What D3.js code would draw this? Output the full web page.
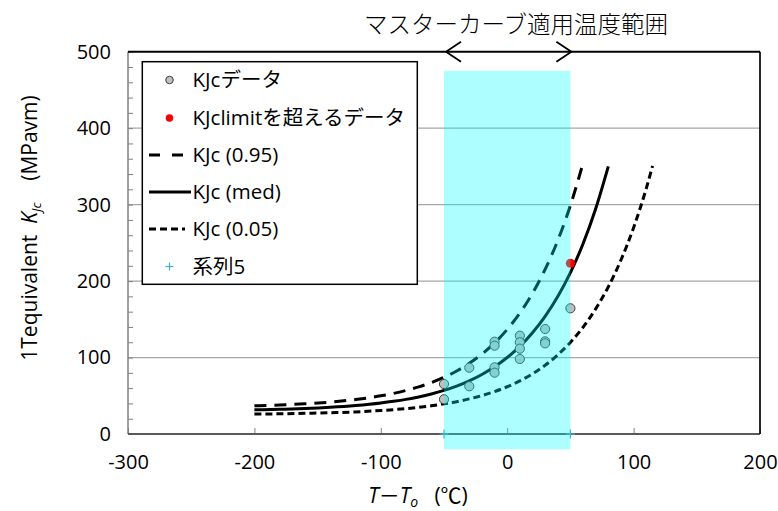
<!DOCTYPE html>
<html><head><meta charset="utf-8">
<script src="https://cdn.jsdelivr.net/npm/d3@7"></script>
<style>
html,body{margin:0;padding:0;background:#fff;}
text{font-family:"Open Sans","Noto Sans CJK JP",sans-serif;}
</style></head>
<body><svg id="c" width="778" height="511"></svg>
<script>
// ---- data ----
const xTicks = [-300, -200, -100, 0, 100, 200];
const yTicks = [0, 100, 200, 300, 400, 500];
const yMinorTicks = [0,20,40,60,80,100,120,140,160,180,200,220,240,260,280,300,320,340,360,380,400,420,440,460,480,500];

const dataT = [-50, -50, -30, -30, -10, -10, -10, -10, 10, 10, 10, 10, 30, 30, 30, 50];
const dataK = [65.4, 45.4, 86.7, 62.4, 120.7, 115.5, 87.2, 80.2, 128.6, 119.9, 111.6, 98.1, 137.3, 121.2, 118.6, 164.4];

const limitT = [50];
const limitK = [223.3];

const p95T = [-200,-180,-160,-140,-120,-100,-90,-80,-70,-60,-50,-40,-30,-20,-10,0,10,20,30,40,50,60];
const p95K = [36.9,37.9,39.5,41.7,45.1,49.9,53.1,57.0,61.6,67.3,74.1,82.4,92.4,104.5,119.1,136.8,158.2,184.0,215.3,253.1,298.9,354.2];

const medT = [-200,-180,-160,-140,-120,-100,-90,-80,-70,-60,-50,-40,-30,-20,-10,0,10,20,30,40,50,60,70,80];
const medK = [31.6,32.3,33.3,34.9,37.2,40.5,42.7,45.3,48.5,52.4,57.1,62.7,69.6,77.9,87.9,100,114.6,132.4,153.8,179.7,211.0,248.9,294.7,350.1];

const p05T = [-200,-180,-160,-140,-120,-100,-80,-60,-50,-40,-30,-20,-10,0,10,20,30,40,50,60,70,80,90,100,110,115];
const p05K = [26.0,26.4,27.0,27.8,28.9,30.7,33.2,36.9,39.4,42.3,45.9,50.2,55.5,61.8,69.5,78.7,89.9,103.5,119.8,139.6,163.6,192.5,227.6,269.9,321.1,350.6];

const s5T = [-50, 50];
const s5K = [0, 0];

const bandT = [-50, 50];
const bandK = [-20, 475];

const legendLabels = ["KJcデータ", "KJclimitを超えるデータ", "KJc (0.95)", "KJc (med)", "KJc (0.05)", "系列5"];
const titleText = "マスターカーブ適用温度範囲";

// ---- layout ----
const svg = d3.select("#c");
const X0 = 128, X1 = 760, Y0 = 434, Y1 = 51.7;
const x = d3.scaleLinear().domain([-300, 200]).range([X0, X1]);
const y = d3.scaleLinear().domain([0, 500]).range([Y0, Y1]);

// gridlines
svg.append("g").selectAll("line").data(yTicks.filter(v => v > 0 && v < 500)).join("line")
  .attr("x1", X0).attr("x2", X1).attr("y1", d => y(d)).attr("y2", d => y(d))
  .attr("stroke", "#a6a6a6").attr("stroke-width", 1.2);

// y minor ticks (inward)
const yMinor = svg.append("g").attr("transform", `translate(${X0},0)`)
  .call(d3.axisLeft(y).tickValues(yMinorTicks).tickSize(-5).tickFormat(""));
yMinor.select(".domain").remove();
yMinor.selectAll("line").attr("stroke", "#808080");

// y labels
const yLab = svg.append("g").attr("transform", `translate(${X0},0)`)
  .call(d3.axisLeft(y).tickValues(yTicks).tickSize(0).tickPadding(17).tickFormat(d => String(d)));
yLab.select(".domain").remove();
yLab.selectAll("text").attr("font-size", 20).attr("fill", "#000")
  .attr("font-family", "'Open Sans',sans-serif");

// x ticks (inward) and labels
const xAx = svg.append("g").attr("transform", `translate(0,${Y0})`)
  .call(d3.axisBottom(x).tickValues(xTicks).tickSize(-6).tickPadding(21).tickFormat(d => String(d)));
xAx.select(".domain").remove();
xAx.selectAll("line").attr("stroke", "#808080");
xAx.selectAll("text").attr("font-size", 20).attr("fill", "#000")
  .attr("font-family", "'Open Sans',sans-serif");

// frame
svg.append("line").attr("x1", X0).attr("x2", X0).attr("y1", Y1).attr("y2", Y0).attr("stroke", "#808080").attr("stroke-width", 1.5);
svg.append("line").attr("x1", X0).attr("x2", X1).attr("y1", Y0).attr("y2", Y0).attr("stroke", "#595959").attr("stroke-width", 1.8);
svg.append("line").attr("x1", X1).attr("x2", X1).attr("y1", Y1).attr("y2", Y0).attr("stroke", "#111").attr("stroke-width", 1.8);
svg.append("line").attr("x1", X0).attr("x2", X1).attr("y1", Y1).attr("y2", Y1).attr("stroke", "#000").attr("stroke-width", 2);

// curves
const line = d3.line().x(d => x(d[0])).y(d => y(d[1])).curve(d3.curveMonotoneX);
const zip = (a, b) => a.map((v, i) => [v, b[i]]);
svg.append("path").datum(zip(p95T, p95K)).attr("d", line).attr("fill", "none")
  .attr("stroke", "#000").attr("stroke-width", 3).attr("stroke-dasharray", "12,8");
svg.append("path").datum(zip(medT, medK)).attr("d", line).attr("fill", "none")
  .attr("stroke", "#000").attr("stroke-width", 3);
svg.append("path").datum(zip(p05T, p05K)).attr("d", line).attr("fill", "none")
  .attr("stroke", "#000").attr("stroke-width", 3).attr("stroke-dasharray", "7,4");

// data points
svg.append("g").selectAll("circle").data(zip(dataT, dataK)).join("circle")
  .attr("cx", d => x(d[0])).attr("cy", d => y(d[1])).attr("r", 4.6)
  .attr("fill", "#bfbfbf").attr("stroke", "#404040").attr("stroke-width", 1);
svg.append("g").selectAll("circle").data(zip(limitT, limitK)).join("circle")
  .attr("cx", d => x(d[0])).attr("cy", d => y(d[1])).attr("r", 4.6)
  .attr("fill", "#ff0000").attr("stroke", "none");

// series 5 plus markers
const plus = (g, cx, cy, s) => {
  g.append("line").attr("x1", cx - s).attr("x2", cx + s).attr("y1", cy).attr("y2", cy);
  g.append("line").attr("x1", cx).attr("x2", cx).attr("y1", cy - s).attr("y2", cy + s);
};
const s5 = svg.append("g").attr("stroke", "#4bacc6").attr("stroke-width", 1.2);
zip(s5T, s5K).forEach(d => plus(s5, x(d[0]), y(d[1]), 4.5));

// cyan band (semi-transparent overlay)
svg.append("rect").attr("x", x(bandT[0])).attr("width", x(bandT[1]) - x(bandT[0]))
  .attr("y", y(bandK[1])).attr("height", y(bandK[0]) - y(bandK[1]))
  .attr("fill", "#00ffff").attr("fill-opacity", 0.32);

// legend
const LX = 142.3, LY = 61.7, LW = 275, LH = 222.6;
const lg = svg.append("g");
lg.append("rect").attr("x", LX).attr("y", LY).attr("width", LW).attr("height", LH)
  .attr("fill", "#fff").attr("stroke", "#000").attr("stroke-width", 1.5);
const rowY = [80, 118, 155, 192, 229, 266.5];
legendLabels.forEach((t, i) => {
  lg.append("text").attr("x", 192.5).attr("y", rowY[i]).attr("dy", "0.35em")
    .attr("font-size", 20.5).attr("fill", "#000").text(t);
});
lg.append("circle").attr("cx", 169.5).attr("cy", rowY[0]).attr("r", 3.8)
  .attr("fill", "#bfbfbf").attr("stroke", "#404040").attr("stroke-width", 1);
lg.append("circle").attr("cx", 169.5).attr("cy", rowY[1]).attr("r", 3.8).attr("fill", "#ff0000");
lg.append("line").attr("x1", 149).attr("x2", 185).attr("y1", rowY[2]).attr("y2", rowY[2])
  .attr("stroke", "#000").attr("stroke-width", 3).attr("stroke-dasharray", "11,12");
lg.append("line").attr("x1", 149).attr("x2", 191).attr("y1", rowY[3]).attr("y2", rowY[3])
  .attr("stroke", "#000").attr("stroke-width", 3);
lg.append("line").attr("x1", 149).attr("x2", 185).attr("y1", rowY[4]).attr("y2", rowY[4])
  .attr("stroke", "#000").attr("stroke-width", 3).attr("stroke-dasharray", "7,4");
const lp = lg.append("g").attr("stroke", "#4bacc6").attr("stroke-width", 1.2);
plus(lp, 169.5, rowY[5], 4);

// title & arrows
svg.append("text").attr("x", 516).attr("y", 33).attr("text-anchor", "middle")
  .attr("font-family", "'Noto Sans CJK JP',sans-serif").attr("font-weight", 300)
  .attr("font-size", 23.5).attr("fill", "#000").text(titleText);
const ar = svg.append("g").attr("stroke", "#000").attr("stroke-width", 1.8).attr("fill", "none");
const ax0 = x(bandT[0]) + 2, ax1 = x(bandT[1]) + 1;
ar.append("path").attr("d", `M${ax0 + 15},${Y1 - 10} L${ax0},${Y1} L${ax0 + 15},${Y1 + 10}`);
ar.append("path").attr("d", `M${ax1 - 15},${Y1 - 10} L${ax1},${Y1} L${ax1 - 15},${Y1 + 10}`);

// axis titles
const xt = svg.append("text").attr("x", 418).attr("y", 503).attr("text-anchor", "middle")
  .attr("font-size", 21).attr("fill", "#000").style("white-space", "pre");
xt.append("tspan").attr("font-style", "italic").text("T");
xt.append("tspan").text("－");
xt.append("tspan").attr("font-style", "italic").text("T");
xt.append("tspan").attr("font-style", "italic").attr("font-size", 14).attr("dy", 4).text("o");
xt.append("tspan").attr("dy", -4).text("   (℃)");

const yt = svg.append("text").attr("transform", "translate(37,228) rotate(-90)")
  .attr("text-anchor", "middle").attr("font-size", 21).attr("fill", "#000").style("white-space", "pre");
yt.append("tspan").text("1Tequivalent  ");
yt.append("tspan").attr("font-style", "italic").text("K");
yt.append("tspan").attr("font-style", "italic").attr("font-size", 13).attr("dy", 4).text("Jc");
yt.append("tspan").attr("dy", -4).text("    (MPavm)");
</script></body></html>
